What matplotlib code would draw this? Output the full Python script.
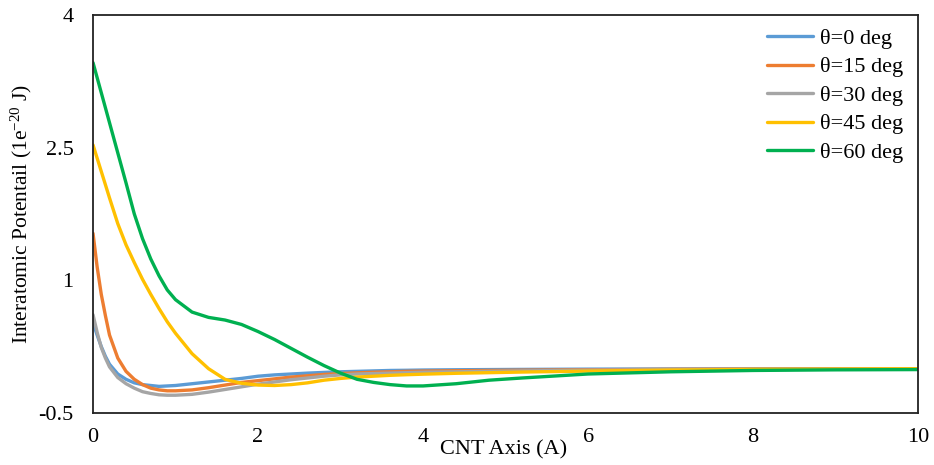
import matplotlib
matplotlib.use("Agg")
import matplotlib.pyplot as plt

plt.rcParams['font.family'] = ['Liberation Serif', 'DejaVu Serif']
plt.rcParams['mathtext.fontset'] = 'custom'
plt.rcParams['mathtext.rm'] = 'Liberation Serif'
plt.rcParams['mathtext.it'] = 'Liberation Serif:italic'

# distance along CNT axis (A)
x = [0, 0.05, 0.1, 0.15, 0.2, 0.3, 0.4, 0.5, 0.6, 0.7, 0.8, 0.9, 1.0, 1.2, 1.4, 1.6, 1.8, 2.0,
     2.2, 2.4, 2.6, 2.8, 3.0, 3.2, 3.4, 3.6, 3.8, 4.0, 4.4, 4.8, 5.2, 6, 7, 8, 9, 10]

# interatomic potential (1e-20 J) for each angle
theta0 = [0.52, 0.38, 0.25, 0.14, 0.05, -0.06, -0.12, -0.16, -0.18, -0.19, -0.20, -0.195, -0.19, -0.17,
          -0.15, -0.13, -0.11, -0.085, -0.07, -0.06, -0.05, -0.042, -0.035, -0.03, -0.025, -0.02,
          -0.018, -0.015, -0.012, -0.01, -0.008, -0.005, -0.003, -0.002, -0.001, 0.0]
theta15 = [1.53, 1.15, 0.84, 0.60, 0.38, 0.12, -0.03, -0.12, -0.18, -0.22, -0.24, -0.25, -0.25, -0.24,
           -0.215, -0.185, -0.155, -0.135, -0.115, -0.095, -0.08, -0.065, -0.055, -0.047, -0.04, -0.035,
           -0.03, -0.027, -0.023, -0.02, -0.017, -0.012, -0.007, -0.004, -0.002, 0.0]
theta30 = [0.61, 0.41, 0.24, 0.12, 0.02, -0.10, -0.17, -0.22, -0.26, -0.28, -0.295, -0.30, -0.30, -0.29,
           -0.265, -0.235, -0.205, -0.175, -0.15, -0.125, -0.105, -0.085, -0.07, -0.06, -0.055, -0.05,
           -0.045, -0.04, -0.035, -0.03, -0.025, -0.017, -0.01, -0.006, -0.003, -0.001]
theta45 = [2.53, 2.38, 2.23, 2.08, 1.93, 1.64, 1.40, 1.20, 1.01, 0.84, 0.68, 0.53, 0.40, 0.17,
           0.0, -0.12, -0.165, -0.185, -0.19, -0.18, -0.16, -0.13, -0.11, -0.095, -0.085, -0.075,
           -0.068, -0.062, -0.052, -0.045, -0.038, -0.027, -0.015, -0.008, -0.004, 0.0]
theta60 = [3.46, 3.29, 3.12, 2.95, 2.78, 2.44, 2.10, 1.75, 1.47, 1.24, 1.05, 0.89, 0.78, 0.64,
           0.58, 0.55, 0.50, 0.42, 0.33, 0.23, 0.13, 0.035, -0.05, -0.12, -0.155, -0.18,
           -0.195, -0.195, -0.17, -0.13, -0.105, -0.06, -0.035, -0.02, -0.013, -0.01]

labels = ['θ=0 deg', 'θ=15 deg', 'θ=30 deg', 'θ=45 deg', 'θ=60 deg']
colors = ['#5B9BD5', '#ED7D31', '#A5A5A5', '#FFC000', '#00B050']
series = [theta0, theta15, theta30, theta45, theta60]

fig = plt.figure(figsize=(9.34, 4.65), dpi=100)
ax = fig.add_axes([0.0996, 0.112, 0.8834, 0.856])

for y, c, lab in zip(series, colors, labels):
    ax.plot(x, y, color=c, lw=2.4, label=lab, solid_capstyle='round', solid_joinstyle='round')

ax.set_xlim(0, 10)
ax.set_ylim(-0.5, 4)
ax.set_xticks([0, 2, 4, 6, 8, 10])
ax.set_yticks([-0.5, 1, 2.5, 4])
ax.set_yticklabels(['-0.5', '1', '2.5', '4'])
ax.tick_params(length=0, labelsize=16)
ax.tick_params(axis='x', pad=11)
ax.tick_params(axis='y', pad=14)

for s in ax.spines.values():
    s.set_color('#222222')
    s.set_linewidth(1.3)

ax.set_xlabel('CNT Axis (A)', fontsize=16, va='center')
ax.xaxis.set_label_coords(0.497, -0.093)
ax.set_ylabel('Interatomic Potentail (1e$^{-20}$ J)', fontsize=15.5, va='center')
ax.yaxis.set_label_coords(-0.087, 0.5)

ax.legend(loc='upper right', frameon=False, fontsize=16, handlelength=2.1,
          handletextpad=0.3, labelspacing=0.36, borderaxespad=0.2,
          bbox_to_anchor=(0.998, 1.0))

fig.savefig('out.png', dpi=100)
